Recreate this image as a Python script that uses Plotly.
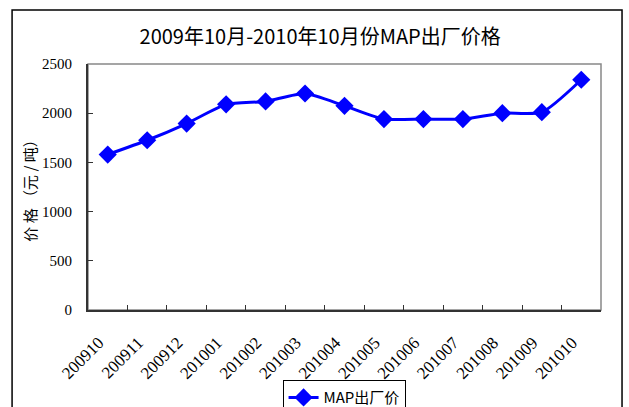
import plotly.graph_objects as go

# 月份与出厂价格（元/吨）
months = ["200910", "200911", "200912", "201001", "201002", "201003", "201004",
          "201005", "201006", "201007", "201008", "201009", "201010"]
price = [1580, 1725, 1895, 2090, 2120, 2200, 2075, 1940, 1940, 1940, 2000, 2010, 2340]
y_ticks = [0, 500, 1000, 1500, 2000, 2500]

serif = "Liberation Serif"
cjk = "Noto Sans CJK SC"

fig = go.Figure()
fig.add_trace(go.Scatter(
    x=months, y=price,
    mode="lines+markers",
    name="MAP出厂价",
    line=dict(color="#0000FF", width=3, shape="spline", smoothing=0.6),
    marker=dict(symbol="diamond", size=14, color="#0000FF"),
))

# 外框和绘图区边框
fig.add_shape(type="rect", xref="paper", yref="paper",
              x0=-0.148, x1=1.041, y0=-0.6, y1=1.22,
              line=dict(color="#000000", width=1.5), layer="below")
fig.add_shape(type="rect", xref="paper", yref="paper",
              x0=0, x1=1, y0=0, y1=1,
              line=dict(color="#888888", width=1.5), layer="below")

# 标签末尾加不换行空格，使斜排标签略向左下偏移
fig.update_xaxes(
    type="category", range=[-0.5, len(months) - 0.5],
    tickvals=months, ticktext=[m + "\u00a0\u00a0\u00a0" for m in months],
    showline=True, linecolor="#333333", linewidth=2,
    ticks="inside", ticklen=5, tickcolor="#333333", tickson="boundaries",
    tickangle=-45, ticklabelstandoff=5,
    tickfont=dict(family=serif, size=17, color="#000000"),
    showgrid=False, zeroline=False,
)
fig.update_yaxes(
    range=[0, 2500], tickvals=y_ticks,
    showline=True, linecolor="#333333", linewidth=2,
    ticks="inside", ticklen=5, tickcolor="#333333",
    ticklabelstandoff=11,
    tickfont=dict(family=serif, size=15, color="#000000"),
    showgrid=False, zeroline=False,
    title=dict(text="价 格 （元 / 吨）", font=dict(family=cjk, size=15, color="#000000"),
               standoff=2),
)

fig.update_layout(
    width=629, height=407,
    margin=dict(l=88, r=28, t=64, b=97, autoexpand=False),
    paper_bgcolor="white", plot_bgcolor="white",
    title=dict(text="2009年10月-2010年10月份MAP出厂价格",
               x=0.509, xanchor="center", y=0.909, yanchor="middle",
               font=dict(family=cjk, size=20, color="#000000")),
    showlegend=True,
    legend=dict(xref="container", yref="container",
                x=0.547, xanchor="center", y=0.066, yanchor="top",
                orientation="h", bordercolor="#000000", borderwidth=1,
                font=dict(family=cjk, size=15, color="#000000"),
                bgcolor="white"),
)

fig.write_html("out.html", config={"displayModeBar": False},
               post_script="document.body.style.margin='0px';")
